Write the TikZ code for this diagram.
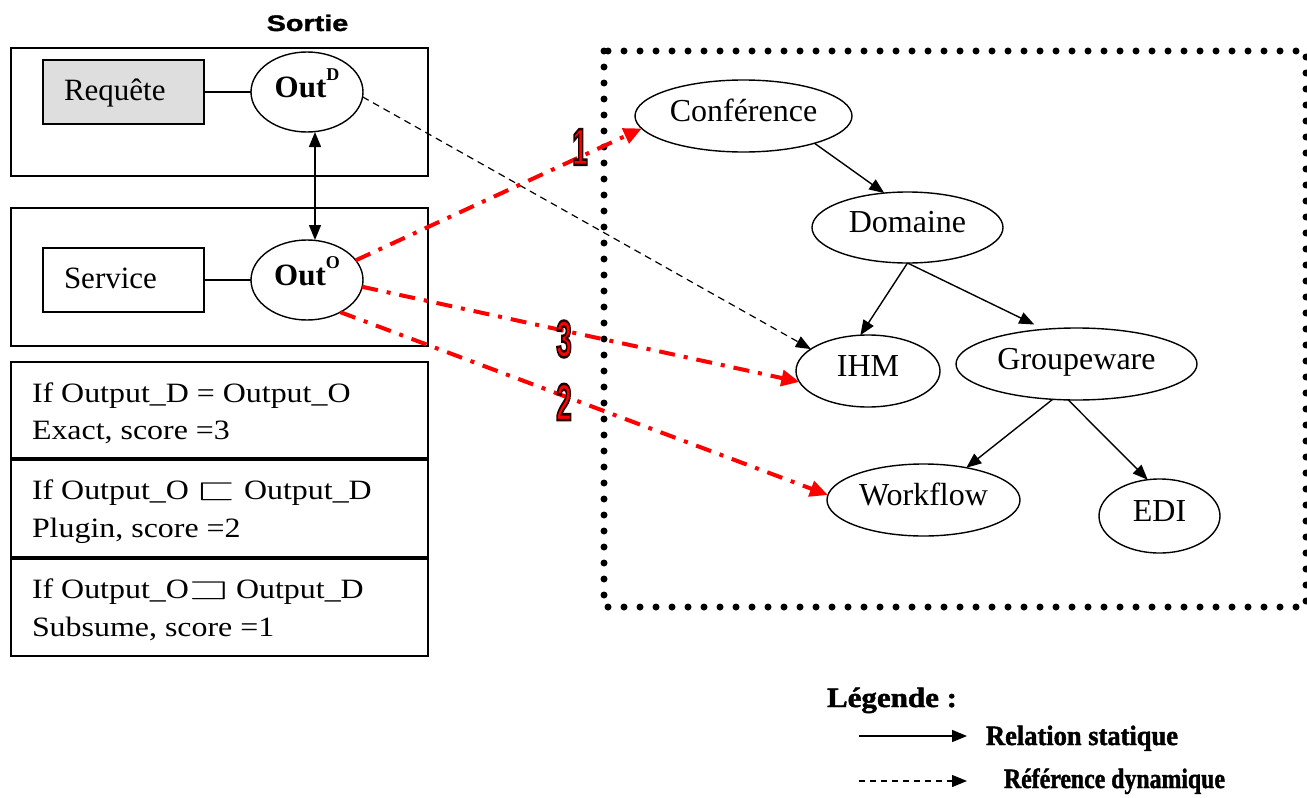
\documentclass[tikz,border=0pt]{standalone}
\usepackage{fontspec}
\usepackage{amssymb}
\usepackage{graphicx}
\usetikzlibrary{arrows.meta,shapes.geometric}
\setmainfont{Liberation Serif}
\newfontfamily\rulefont{Liberation Serif}[FakeStretch=1.14]
\newfontfamily\sortiefont{Liberation Sans}[FakeStretch=1.28,BoldFeatures={FakeBold=1.5}]
\newfontfamily\legfont{Liberation Serif}[BoldFeatures={FakeBold=1.6}]
% emboldened digits: the stroke takes a dark rim colour
\newfontfamily\numfont{Liberation Sans}[BoldFeatures={FakeBold=5}]
\newcommand\rimdigit[1]{{\color{red}\special{pdf:code 0.15 0 0 RG}#1}}
\begin{document}
\begin{tikzpicture}[x=1pt,y=-1pt,
  every node/.style={inner sep=0pt,outer sep=0pt},
  frame/.style={draw,line width=1.8pt},
  oval/.style={draw,ellipse,line width=1.4pt,text height=10pt,text depth=0pt,
               font=\fontsize{32}{36}\selectfont},
  outoval/.style={oval,minimum width=112pt,minimum height=80pt,
               font=\fontsize{31}{36}\selectfont\bfseries},
  termbox/.style={draw,line width=1.8pt,minimum width=161pt,minimum height=64pt,
               text height=16pt,text depth=0pt,font=\fontsize{31}{36}\selectfont},
  ruletext/.style={anchor=base west,font=\rulefont\fontsize{28}{34}\selectfont},
  legtext/.style={anchor=base west,font=\legfont\bfseries\fontsize{28}{32}\selectfont},
  numlabel/.style={font=\numfont\bfseries\fontsize{40}{40}\selectfont},
  link/.style={line width=1.4pt},
  stat/.style={line width=1.4pt,-{Triangle[length=15pt,width=12pt]}},
  dyn/.style={line width=1.2pt,dash pattern=on 7pt off 5pt,-{Triangle[length=15pt,width=12pt]}},
  match/.style={red,line width=4pt,dash pattern=on 16pt off 9pt on 4pt off 9pt,
               -{Triangle[length=18pt,width=16pt]}},
]
\useasboundingbox (0,0) rectangle (1307,798);

% ---------- left column: request / service ----------
\node[anchor=base,font=\sortiefont\bfseries\fontsize{22.5}{24}\selectfont] (sortie) at (307.5,31) {Sortie};

\draw[frame] (11,48) rectangle (428,176);
\draw[frame] (11,208) rectangle (428,346);

\node[termbox,fill=black!13] (req) at (123.5,92) {\makebox[119pt][l]{Requête}};
\node[termbox] (serv) at (123.5,280) {\makebox[119pt][l]{Service}};

\node[outoval] (outD) at (307,92) {Out\raisebox{17pt}{\fontsize{18}{18}\selectfont D}};
\node[outoval] (outO) at (307,280) {Out\raisebox{17pt}{\fontsize{18}{18}\selectfont O}};

\draw[link] (req) -- (outD);
\draw[link] (serv) -- (outO);
\draw[line width=1.4pt,{Triangle[length=15pt,width=12pt]}-{Triangle[length=15pt,width=12pt]}]
  ([xshift=8pt]outD.south) -- ([xshift=8pt]outO.north);

% ---------- matching rules ----------
\draw[frame] (11,362) rectangle (428,458);
\draw[frame] (11,460) rectangle (428,557);
\draw[frame] (11,559) rectangle (428,656);

\node[ruletext] (r1a) at (32,402) {If Output\_D = Output\_O};
\node[ruletext] (r1b) at (32,439) {Exact, score =3};
\node[ruletext] (r2a) at (32,499) {If Output\_O \scalebox{1.8}[1.1]{$\sqsubset$} Output\_D};
\node[ruletext] (r2b) at (32,537) {Plugin, score =2};
\node[ruletext] (r3a) at (32,598) {If Output\_O\scalebox{1.8}[1.1]{$\sqsupset$} Output\_D};
\node[ruletext] (r3b) at (32,636) {Subsume, score =1};

% ---------- ontology ----------
\draw[line width=7pt,dash pattern=on 0pt off 16pt,line cap=round] (604,51) rectangle (1306,607);

\node[oval,minimum width=217pt,minimum height=72pt] (conf) at (743.5,116) {Conférence};
\node[oval,minimum width=191pt,minimum height=71pt] (dom) at (907.5,227.5) {Domaine};
\node[oval,minimum width=144pt,minimum height=72pt] (ihm) at (868,371) {IHM};
\node[oval,minimum width=241pt,minimum height=72pt] (grp) at (1076.5,364) {Groupeware};
\node[oval,minimum width=193pt,minimum height=72pt] (wf) at (923.5,500) {Workflow};
\node[oval,minimum width=121pt,minimum height=74pt] (edi) at (1159.5,516) {EDI};

\draw[stat] (conf.-21.5) -- (dom.124.6);
\draw[stat] (dom.south) -- (ihm.102.5);
\draw[stat,shorten >=11pt] (dom.south) -- (grp.133);
\draw[stat] (grp.-124) -- (wf.37);
\draw[stat] (grp.-103) -- (edi.108.7);

% ---------- cross references ----------
\draw[dyn] (outD.-5) -- (ihm.159.4);
\draw[match] (outO.22) -- (conf.187.3);
\draw[match] (outO.-7) -- (ihm.189.3);
\draw[match] (outO.-44) -- (wf.177.6);

\node[numlabel] (n1) at (580,147) {\scalebox{0.7}[1.3]{\rimdigit{1}}};
\node[numlabel] (n3) at (564,339) {\scalebox{0.7}[1.3]{\rimdigit{3}}};
\node[numlabel] (n2) at (564,402) {\scalebox{0.7}[1.3]{\rimdigit{2}}};

% ---------- legend ----------
\node[legtext] (legend) at (827,707) {\resizebox{130pt}{\height}{Légende :}};
\coordinate (sa) at (859,736);
\coordinate (sb) at (967,736);
\coordinate (da) at (859,781);
\coordinate (db) at (967,781);
\draw[line width=1.4pt,-{Triangle[length=15pt,width=12pt]}] (sa) -- (sb);
\draw[line width=1.2pt,dash pattern=on 6pt off 5pt,-{Triangle[length=15pt,width=12pt]}] (da) -- (db);
\node[legtext] (lstat) at (986,745) {\resizebox{192pt}{\height}{Relation statique}};
\node[legtext] (ldyn) at (1004,788) {\resizebox{221pt}{\height}{Référence dynamique}};
\end{tikzpicture}
\end{document}
